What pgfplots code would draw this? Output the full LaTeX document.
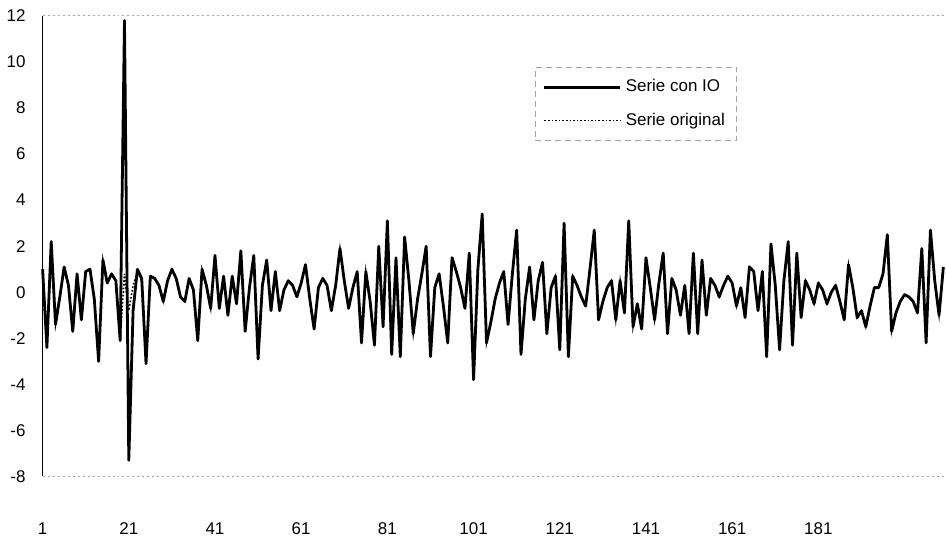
\documentclass[border=0pt]{standalone}
\usepackage{pgfplots}
\usepackage{pgfplotstable}
\usepackage{fontspec}
\setmainfont{Liberation Sans}
\pgfplotsset{compat=1.18}
\pgfplotstableread{
t io orig
1 1.0 1.0
2 -2.4 -2.4
3 2.2 2.2
4 -1.4 -1.4
5 -0.2 -0.2
6 1.1 1.1
7 0.3 0.3
8 -1.7 -1.7
9 0.8 0.8
10 -1.2 -1.2
11 0.9 0.9
12 1.0 1.0
13 -0.3 -0.3
14 -3.0 -3.0
15 1.4 1.4
16 0.4 0.4
17 0.8 0.8
18 0.5 0.5
19 -2.1 -2.1
20 11.8 0.8
21 -7.3 -0.8
22 -0.8 0.3
23 1.0 0.9
24 0.6 0.5
25 -3.1 -3.0
26 0.7 0.7
27 0.6 0.6
28 0.3 0.3
29 -0.4 -0.4
30 0.5 0.5
31 1.0 1.0
32 0.6 0.6
33 -0.2 -0.2
34 -0.4 -0.4
35 0.6 0.6
36 0.1 0.1
37 -2.1 -2.1
38 1.0 1.0
39 0.3 0.3
40 -0.7 -0.7
41 1.6 1.6
42 -0.7 -0.7
43 0.7 0.7
44 -1.0 -1.0
45 0.7 0.7
46 -0.5 -0.5
47 1.8 1.8
48 -1.7 -1.7
49 0.2 0.2
50 1.6 1.6
51 -2.9 -2.9
52 0.3 0.3
53 1.4 1.4
54 -0.8 -0.8
55 0.9 0.9
56 -0.8 -0.8
57 0.1 0.1
58 0.5 0.5
59 0.3 0.3
60 -0.2 -0.2
61 0.4 0.4
62 1.2 1.2
63 -0.3 -0.3
64 -1.6 -1.6
65 0.2 0.2
66 0.6 0.6
67 0.3 0.3
68 -0.8 -0.8
69 0.3 0.3
70 1.9 1.9
71 0.5 0.5
72 -0.7 -0.7
73 0.2 0.2
74 0.9 0.9
75 -2.2 -2.2
76 0.9 0.9
77 -0.4 -0.4
78 -2.3 -2.3
79 2.0 2.0
80 -1.5 -1.5
81 3.1 3.1
82 -2.7 -2.7
83 1.5 1.5
84 -2.8 -2.8
85 2.4 2.4
86 0.5 0.5
87 -1.8 -1.8
88 -0.3 -0.3
89 0.8 0.8
90 2.0 2.0
91 -2.8 -2.8
92 0.2 0.2
93 0.8 0.8
94 -0.6 -0.6
95 -2.2 -2.2
96 1.5 1.5
97 0.9 0.9
98 0.2 0.2
99 -0.7 -0.7
100 1.7 1.7
101 -3.8 -3.8
102 1.0 1.0
103 3.4 3.4
104 -2.2 -2.2
105 -1.3 -1.3
106 -0.3 -0.3
107 0.4 0.4
108 0.9 0.9
109 -1.4 -1.4
110 0.8 0.8
111 2.7 2.7
112 -2.7 -2.7
113 -0.3 -0.3
114 1.1 1.1
115 -1.2 -1.2
116 0.5 0.5
117 1.3 1.3
118 -1.8 -1.8
119 0.2 0.2
120 0.7 0.7
121 -2.5 -2.5
122 3.0 3.0
123 -2.8 -2.8
124 0.7 0.7
125 0.3 0.3
126 -0.2 -0.2
127 -0.6 -0.6
128 1.0 1.0
129 2.7 2.7
130 -1.2 -1.2
131 -0.4 -0.4
132 0.2 0.2
133 0.5 0.5
134 -1.2 -1.2
135 0.5 0.5
136 -0.9 -0.9
137 3.1 3.1
138 -1.5 -1.5
139 -0.5 -0.5
140 -1.6 -1.6
141 1.5 1.5
142 0.2 0.2
143 -1.2 -1.2
144 0.4 0.4
145 1.7 1.7
146 -1.8 -1.8
147 0.6 0.6
148 0.1 0.1
149 -1.0 -1.0
150 0.3 0.3
151 -1.8 -1.8
152 1.7 1.7
153 -1.8 -1.8
154 1.4 1.4
155 -1.0 -1.0
156 0.6 0.6
157 0.3 0.3
158 -0.2 -0.2
159 0.3 0.3
160 0.7 0.7
161 0.4 0.4
162 -0.6 -0.6
163 0.2 0.2
164 -1.1 -1.1
165 1.1 1.1
166 0.9 0.9
167 -0.8 -0.8
168 0.9 0.9
169 -2.8 -2.8
170 2.1 2.1
171 0.3 0.3
172 -2.5 -2.5
173 0.5 0.5
174 2.2 2.2
175 -2.3 -2.3
176 1.7 1.7
177 -1.1 -1.1
178 0.5 0.5
179 0.1 0.1
180 -0.5 -0.5
181 0.4 0.4
182 0.1 0.1
183 -0.5 -0.5
184 0.0 0.0
185 0.3 0.3
186 -0.4 -0.4
187 -1.2 -1.2
188 1.2 1.2
189 0.2 0.2
190 -1.1 -1.1
191 -0.8 -0.8
192 -1.5 -1.5
193 -0.6 -0.6
194 0.2 0.2
195 0.2 0.2
196 0.8 0.8
197 2.5 2.5
198 -1.7 -1.7
199 -0.9 -0.9
200 -0.4 -0.4
201 -0.1 -0.1
202 -0.2 -0.2
203 -0.4 -0.4
204 -0.9 -0.9
205 1.9 1.9
206 -2.2 -2.2
207 2.7 2.7
208 0.5 0.5
209 -1.0 -1.0
210 1.1 1.1
}\datatable
\begin{document}
\begin{tikzpicture}
\begin{axis}[
  scale only axis,
  width=452pt, height=230.5pt,
  xmin=1, xmax=210.5,
  ymin=-8, ymax=12,
  ytick={-8,-6,...,12},
  xtick={1,21,41,61,81,101,121,141,161,181},
  major tick length=0pt,
  axis line style={draw=none},
  tick label style={font=\fontsize{8.5}{10}\selectfont},
  /pgf/number format/assume math mode=true,
  xticklabel style={yshift=-19.5pt},
  yticklabel style={xshift=-5pt},
  legend style={at={(rel axis cs:0.545,0.889)}, anchor=north west,
    draw=gray!70, densely dashed, line width=0.4pt,
    font=\fontsize{8.5}{11}\selectfont, row sep=5pt,
    inner xsep=4pt, inner ysep=4pt},
  legend cell align=left,
  legend image code/.code={\draw[#1] (0pt,0pt) -- (38pt,0pt);},
  clip=false,
]
\draw[black, solid, line width=0.6pt] (rel axis cs:0,0) -- (rel axis cs:0,1);
\draw[gray!70, line width=0.5pt, dash pattern=on 1pt off 1.5pt] (rel axis cs:0,1) -- (rel axis cs:1,1);
\draw[gray!70, line width=0.5pt, dash pattern=on 1pt off 1.5pt] (rel axis cs:0,0) -- (rel axis cs:1,0);
\addplot[black, solid, line width=1.4pt, line join=round, mark=none] table[x=t, y=io] {\datatable};
\addlegendentry{Serie con IO}
\addplot[black, densely dotted, line width=0.8pt, mark=none] table[x=t, y=orig] {\datatable};
\addlegendentry{Serie original}
\end{axis}
\path ([yshift=8pt]current axis.north west);
\path ([yshift=-40pt]current axis.south west);
\end{tikzpicture}
\end{document}
